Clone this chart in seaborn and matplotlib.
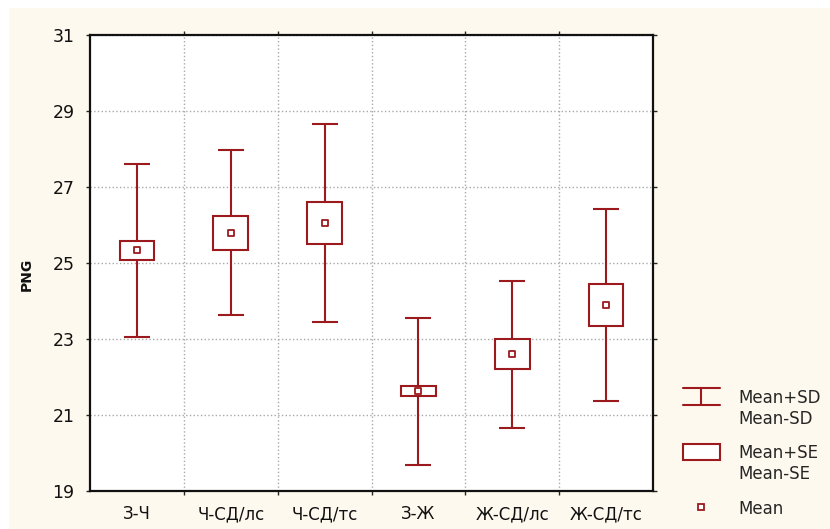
import matplotlib
matplotlib.use("Agg")
import matplotlib.pyplot as plt
from matplotlib.legend_handler import HandlerBase
from matplotlib.lines import Line2D
from matplotlib.patches import Rectangle
import numpy as np
import pandas as pd
import seaborn as sns

groups = ["З-Ч", "Ч-СД/лс", "Ч-СД/тс", "З-Ж", "Ж-СД/лс", "Ж-СД/тс"]
means = [25.33, 25.80, 26.05, 21.62, 22.60, 23.90]
se = [0.24, 0.445, 0.555, 0.13, 0.40, 0.56]
sd = [2.27, 2.17, 2.61, 1.93, 1.93, 2.53]
yticks = [19, 21, 23, 25, 27, 29, 31]

red = "#9c1a1e"

sns.set_theme(style="white")
plt.rcParams["font.family"] = ["DejaVu Sans"]

df = pd.DataFrame({"group": groups, "mean": means, "se": se, "sd": sd})


class SymbolHandler(HandlerBase):
    # legend symbols aligned with the first line of a two-line label
    def __init__(self, kind, shift):
        super().__init__()
        self.kind = kind
        self.shift = shift

    def create_artists(self, legend, orig_handle, xdescent, ydescent,
                       width, height, fontsize, trans):
        x0, x1 = -xdescent, -xdescent + width
        y0 = -ydescent + self.shift * fontsize
        y1 = y0 + height
        if self.kind == "sd":
            xm = (x0 + x1) / 2
            arts = [Line2D([x0, x1], [y0, y0]), Line2D([x0, x1], [y1, y1]),
                    Line2D([xm, xm], [y0, y1])]
            for a in arts:
                a.set_color(red)
                a.set_linewidth(1.5)
        else:
            arts = [Rectangle((x0, y0), width, height, facecolor="white",
                              edgecolor=red, lw=1.5)]
        for a in arts:
            a.set_transform(trans)
        return arts


fig = plt.figure(figsize=(8.3, 5.29), dpi=100, facecolor="white")
fig.patches.append(Rectangle((9 / 830, 0), 1, 1 - 8 / 529,
                             transform=fig.transFigure,
                             facecolor="#fef9ee", edgecolor="none", zorder=-10))
ax = fig.add_axes([90 / 830, 38 / 529, 563 / 830, 456 / 529])
ax.set_facecolor("white")

# mean points
sns.scatterplot(data=df, x="group", y="mean", marker="s", s=22,
                color="white", edgecolor=red, linewidth=1.3, zorder=4,
                ax=ax, legend=False)
# mean +/- SD whiskers
ax.errorbar(df["group"], df["mean"], yerr=df["sd"], fmt="none",
            ecolor=red, elinewidth=1.5, capsize=9.4, capthick=1.5, zorder=2)
# mean +/- SE boxes
ax.bar(df["group"], 2 * df["se"], bottom=df["mean"] - df["se"], width=0.37,
       color="white", edgecolor=red, linewidth=1.5, zorder=3)

ax.set(xlim=(-0.5, 5.5), ylim=(19, 31), yticks=yticks)
ax.set_xticks(np.arange(0.5, 5), minor=True)
ax.grid(False)
ax.yaxis.grid(True, which="major", linestyle=":", color="#a8a8a8", lw=1)
ax.xaxis.grid(True, which="minor", linestyle=":", color="#a8a8a8", lw=1)
ax.set_axisbelow(True)

for s in ax.spines.values():
    s.set_color("#111111")
    s.set_linewidth(1.6)

ax.tick_params(axis="y", which="major", direction="out", length=3, width=1,
               pad=8, labelsize=12.5, labelcolor="#111111", left=True, right=True)
ax.tick_params(axis="x", which="major", length=0, pad=10, labelsize=12,
               labelcolor="#111111")
ax.tick_params(axis="x", which="minor", direction="out", length=3, width=1,
               bottom=True, top=True)

ax.set_xlabel("")
ax.set_ylabel("PNG", fontsize=10, fontweight="bold", color="#111111")
ax.yaxis.set_label_coords(-0.1, 0.476)

sd_handle = Line2D([], [])
box_handle = Rectangle((0, 0), 1, 1)
mean_handle = Line2D([], [], marker="s", ls="none", mfc="white", mec=red,
                     ms=5, mew=1.3)
ax.legend(handles=[sd_handle, box_handle, mean_handle],
          labels=["Mean+SD\nMean-SD", "Mean+SE\nMean-SE", "Mean"],
          handler_map={sd_handle: SymbolHandler("sd", 0.8),
                       box_handle: SymbolHandler("se", 0.8)},
          loc="upper left", bbox_to_anchor=(683 / 830, 1 - 389 / 529),
          bbox_transform=fig.transFigure, frameon=False, fontsize=12,
          handlelength=2.2, handleheight=1.15, handletextpad=1.1,
          labelspacing=1.0, borderpad=0, borderaxespad=0)

fig.savefig("out.png", dpi=100)
